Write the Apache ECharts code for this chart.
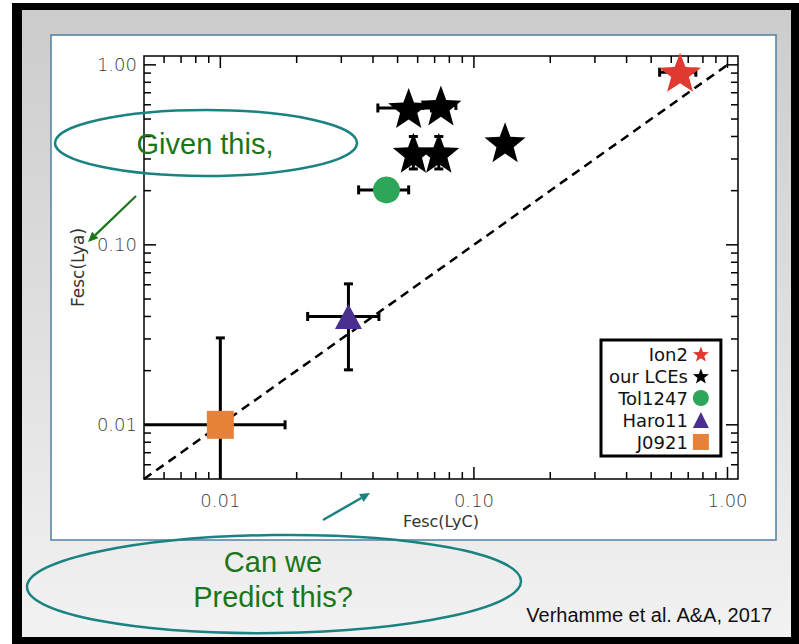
<!DOCTYPE html>
<html>
<head>
<meta charset="utf-8">
<script src="https://cdn.jsdelivr.net/npm/echarts@6/dist/echarts.min.js"></script>
<style>
  html, body { margin: 0; padding: 0; background: #ffffff; }
  #chart { width: 799px; height: 644px; }
</style>
</head>
<body>
<div id="chart"></div>
<script>
// Axis ranges (both axes logarithmic)
const xRange = [0.005, 1.1];
const yRange = [0.005, 1.12];
const tickValues = [0.01, 0.1, 1];
const tickLabels = ['0.01', '0.10', '1.00'];
const minorMultipliers = [2, 3, 4, 5, 6, 7, 8, 9];

// Legend entries, in drawing order
const seriesNames = ['Ion2', 'our LCEs', 'Tol1247', 'Haro11', 'J0921'];

// Points: [Fesc(LyC), Fesc(Lya)]
const ion2 = [[0.65, 0.91]];
const ourLCEs = [[0.0553, 0.576], [0.0741, 0.595], [0.0577, 0.325], [0.0727, 0.325], [0.1327, 0.372]];
const tol1247 = [[0.0452, 0.202]];
const haro11 = [[0.032, 0.040]];
const j0921 = [[0.010, 0.010]];

// Horizontal error bars: [y, xLow, xHigh]
const xErrors = [
  [0.91, 0.54, 0.75],
  [0.576, 0.0418, 0.068],
  [0.595, 0.063, 0.0849],
  [0.202, 0.0351, 0.0553],
  [0.040, 0.0221, 0.0422],
  [0.010, 0.004, 0.018]
];
// Vertical error bars: [x, yLow, yHigh]
const yErrors = [
  [0.0577, 0.264, 0.40],
  [0.0727, 0.264, 0.40],
  [0.032, 0.0202, 0.0607],
  [0.010, 0.004, 0.0304]
];

// One-to-one relation
const oneToOne = [[0.005, 0.005], [1.0, 1.0]];

const starPath = 'path://M50,0L62.34,33.01L97.55,34.55L69.97,56.49L79.39,90.45L50,71L20.61,90.45L30.03,56.49L2.45,34.55L37.66,33.01Z';

const colors = {
  ion2: '#e0392f',
  lces: '#000000',
  tol: '#2ea65a',
  haro: '#4a2f8e',
  j0921: '#e8813a'
};

function logTicks(range) {
  const out = [];
  for (let e = -4; e <= 1; e++) {
    const base = Math.pow(10, e);
    [1].concat(minorMultipliers).forEach(m => {
      const v = m * base;
      if (v > range[0] * 1.0001 && v < range[1] * 0.9999) out.push({ v: v, major: m === 1 });
    });
  }
  return out;
}

function labelFor(v) {
  for (let i = 0; i < tickValues.length; i++) {
    if (Math.abs(Math.log10(v) - Math.log10(tickValues[i])) < 1e-6) return tickLabels[i];
  }
  return '';
}

// Inward ticks on all four sides of the frame
function renderTicks(params, api) {
  const cs = params.coordSys;
  const children = [];
  const add = (x1, y1, x2, y2) => children.push({
    type: 'line', shape: { x1, y1, x2, y2 },
    style: { stroke: '#000', lineWidth: 1.5 }
  });
  logTicks(xRange).forEach(t => {
    const px = api.coord([t.v, yRange[0]])[0];
    const len = t.major ? 12 : 7;
    add(px, cs.y + cs.height, px, cs.y + cs.height - len);
    add(px, cs.y, px, cs.y + len);
  });
  logTicks(yRange).forEach(t => {
    const py = api.coord([xRange[0], t.v])[1];
    const len = t.major ? 12 : 7;
    add(cs.x, py, cs.x + len, py);
    add(cs.x + cs.width, py, cs.x + cs.width - len, py);
  });
  return { type: 'group', children };
}

const cap = 4.5;
const barStyle = { stroke: '#000', lineWidth: 3 };

function renderXErr(params, api) {
  const y = api.value(0);
  const a = api.coord([api.value(1), y]);
  const b = api.coord([api.value(2), y]);
  return {
    type: 'group',
    children: [
      { type: 'line', shape: { x1: a[0], y1: a[1], x2: b[0], y2: b[1] }, style: barStyle },
      { type: 'line', shape: { x1: a[0], y1: a[1] - cap, x2: a[0], y2: a[1] + cap }, style: barStyle },
      { type: 'line', shape: { x1: b[0], y1: b[1] - cap, x2: b[0], y2: b[1] + cap }, style: barStyle }
    ]
  };
}

function renderYErr(params, api) {
  const x = api.value(0);
  const a = api.coord([x, api.value(1)]);
  const b = api.coord([x, api.value(2)]);
  return {
    type: 'group',
    children: [
      { type: 'line', shape: { x1: a[0], y1: a[1], x2: b[0], y2: b[1] }, style: barStyle },
      { type: 'line', shape: { x1: a[0] - cap, y1: a[1], x2: a[0] + cap, y2: a[1] }, style: barStyle },
      { type: 'line', shape: { x1: b[0] - cap, y1: b[1], x2: b[0] + cap, y2: b[1] }, style: barStyle }
    ]
  };
}

function arrow(x1, y1, x2, y2, color, width) {
  const ang = Math.atan2(y2 - y1, x2 - x1);
  const len = 10, half = 4.5;
  const bx = x2 - len * Math.cos(ang), by = y2 - len * Math.sin(ang);
  return [
    { type: 'line', shape: { x1, y1, x2: bx, y2: by }, style: { stroke: color, lineWidth: width }, z: 100 },
    { type: 'polygon', shape: { points: [
        [x2, y2],
        [bx + half * Math.sin(ang), by - half * Math.cos(ang)],
        [bx - half * Math.sin(ang), by + half * Math.cos(ang)]
      ] }, style: { fill: color }, z: 100 }
  ];
}

const teal = '#1a8280';
const green = '#1b7519';
const textFont = '"Liberation Sans", Arial, sans-serif';
const axisFont = '"DejaVu Sans", sans-serif';

const chart = echarts.init(document.getElementById('chart'), null, { renderer: 'svg' });

chart.setOption({
  animation: false,
  backgroundColor: '#ffffff',
  grid: {
    left: 144, top: 56, width: 594, height: 423,
    show: true, borderColor: '#000', borderWidth: 1.5, backgroundColor: 'transparent'
  },
  xAxis: {
    type: 'log', logBase: 10, min: xRange[0], max: xRange[1],
    name: 'Fesc(LyC)', nameLocation: 'middle', nameGap: 34,
    nameTextStyle: { fontFamily: axisFont, fontSize: 16, color: '#333' },
    axisLine: { show: false }, axisTick: { show: false }, splitLine: { show: false },
    axisLabel: {
      margin: 12, fontFamily: axisFont, fontSize: 18, color: '#3a3a3a', fontWeight: 300,
      formatter: labelFor
    }
  },
  yAxis: {
    type: 'log', logBase: 10, min: yRange[0], max: yRange[1],
    name: 'Fesc(Lya)', nameLocation: 'middle', nameGap: 58, nameRotate: 90,
    nameTextStyle: { fontFamily: axisFont, fontSize: 17, color: '#333' },
    axisLine: { show: false }, axisTick: { show: false }, splitLine: { show: false },
    axisLabel: {
      margin: 7, fontFamily: axisFont, fontSize: 18, color: '#3a3a3a', fontWeight: 300,
      formatter: labelFor
    }
  },
  legend: {
    data: seriesNames,
    orient: 'vertical', align: 'right',
    left: 601, top: 340,
    itemWidth: 16, itemHeight: 16, itemGap: 4,
    padding: [5, 12, 5, 8],
    backgroundColor: '#ffffff', borderColor: '#000', borderWidth: 3, borderRadius: 0,
    selectedMode: false,
    textStyle: { fontFamily: axisFont, fontSize: 18, color: '#111', lineHeight: 18 }
  },
  graphic: [
    { type: 'rect', shape: { x: 12, y: 3, width: 787, height: 641 }, style: { fill: '#000' }, z: -100, silent: true },
    { type: 'rect', shape: { x: 22, y: 10, width: 769, height: 627 },
      style: { fill: { type: 'linear', x: 0, y: 0, x2: 0, y2: 1,
        colorStops: [{ offset: 0, color: '#cccccc' }, { offset: 1, color: '#f2f2f2' }] } },
      z: -99, silent: true },
    { type: 'rect', shape: { x: 51, y: 35, width: 725, height: 505 },
      style: { fill: '#ffffff', stroke: '#4f7fa5', lineWidth: 1.5 }, z: -98, silent: true },

    { type: 'ellipse', shape: { cx: 206, cy: 143, rx: 151, ry: 33 },
      style: { fill: 'none', stroke: teal, lineWidth: 2.5 }, z: 100, silent: true },
    { type: 'text', x: 205, y: 144, z: 100, silent: true,
      style: { text: 'Given this,', fontFamily: textFont, fontSize: 29, fill: green, align: 'center', verticalAlign: 'middle' } },
    ...arrow(136, 196, 88, 242, green, 2.2),

    { type: 'ellipse', shape: { cx: 274, cy: 584, rx: 247, ry: 49 },
      rotation: 0.012, originX: 274, originY: 584,
      style: { fill: 'none', stroke: teal, lineWidth: 2.5 }, z: 100, silent: true },
    { type: 'text', x: 273, y: 562, z: 100, silent: true,
      style: { text: 'Can we', fontFamily: textFont, fontSize: 29, fill: green, align: 'center', verticalAlign: 'middle' } },
    { type: 'text', x: 273, y: 597, z: 100, silent: true,
      style: { text: 'Predict this?', fontFamily: textFont, fontSize: 29, fill: green, align: 'center', verticalAlign: 'middle' } },
    ...arrow(323, 520, 370, 493, teal, 2.5),

    { type: 'text', x: 772, y: 615, z: 100, silent: true,
      style: { text: 'Verhamme et al. A&A, 2017', fontFamily: textFont, fontSize: 20, fill: '#111', align: 'right', verticalAlign: 'middle' } }
  ],
  series: [
    {
      type: 'custom', name: 'ticks', silent: true, z: 3, clip: false,
      data: [[xRange[0], yRange[0]]],
      renderItem: renderTicks
    },
    {
      type: 'line', name: 'one-to-one', data: oneToOne, symbol: 'none', silent: true, z: 1,
      lineStyle: { color: '#000', width: 2.5, type: [9, 6] }
    },
    {
      type: 'custom', name: 'x errors', data: xErrors, encode: { x: [1, 2], y: 0 },
      renderItem: renderXErr, clip: true, z: 1, silent: true
    },
    {
      type: 'custom', name: 'y errors', data: yErrors, encode: { x: 0, y: [1, 2] },
      renderItem: renderYErr, clip: true, z: 1, silent: true
    },
    { type: 'scatter', name: seriesNames[0], data: ion2, symbol: starPath, symbolSize: [42, 39],
      itemStyle: { color: colors.ion2, opacity: 1 }, z: 5 },
    { type: 'scatter', name: seriesNames[1], data: ourLCEs, symbol: starPath, symbolSize: [41, 40],
      itemStyle: { color: colors.lces, opacity: 1 }, z: 5 },
    { type: 'scatter', name: seriesNames[2], data: tol1247, symbol: 'circle', symbolSize: 27,
      itemStyle: { color: colors.tol, opacity: 1 }, z: 5 },
    { type: 'scatter', name: seriesNames[3], data: haro11, symbol: 'triangle', symbolSize: [27, 25],
      itemStyle: { color: colors.haro, opacity: 1 }, z: 5 },
    { type: 'scatter', name: seriesNames[4], data: j0921, symbol: 'rect', symbolSize: [27, 28],
      itemStyle: { color: colors.j0921, opacity: 1 }, z: 5 }
  ]
});
</script>
</body>
</html>
